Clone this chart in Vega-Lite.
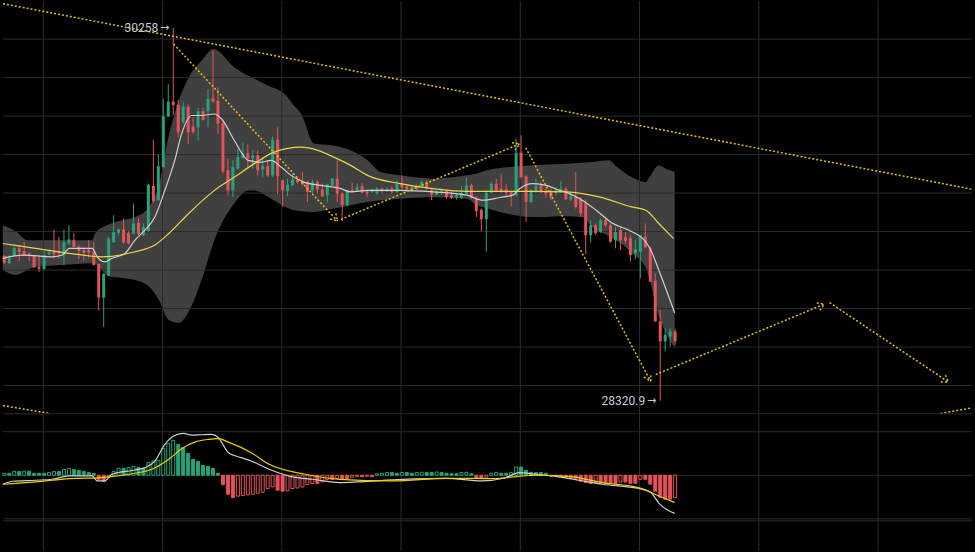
{
  "$schema": "https://vega.github.io/schema/vega-lite/v6.json",
  "width": 975,
  "height": 552,
  "autosize": {"type": "fit", "contains": "padding"},
  "padding": 0,
  "background": "#000000",
  "config": {
    "view": {"stroke": null},
    "axis": {"labels": false, "ticks": false, "domain": false, "grid": false},
    "scale": {"continuousPadding": 0}
  },
  "datasets": {
    "candles": [
      {"i":0,"o":29073,"h":29078,"l":29031,"c":29037,"m":4.6},
      {"i":1,"o":29035,"h":29077,"l":29031,"c":29061,"m":4.6},
      {"i":2,"o":29078,"h":29121,"l":29074,"c":29116,"m":8.5},
      {"i":3,"o":29113,"h":29130,"l":29047,"c":29094,"m":8.5},
      {"i":4,"o":29099,"h":29147,"l":29073,"c":29078,"m":9.2},
      {"i":5,"o":29085,"h":29095,"l":29048,"c":29074,"m":9.2},
      {"i":6,"o":29074,"h":29078,"l":29012,"c":29014,"m":4.6},
      {"i":7,"o":29017,"h":29074,"l":28991,"c":29007,"m":4.6},
      {"i":8,"o":29005,"h":29099,"l":29000,"c":29078,"m":4.6},
      {"i":9,"o":29082,"h":29107,"l":29078,"c":29092,"m":6.2},
      {"i":10,"o":29095,"h":29211,"l":29061,"c":29082,"m":8.5},
      {"i":11,"o":29095,"h":29173,"l":29061,"c":29087,"m":8.5},
      {"i":12,"o":29078,"h":29211,"l":29026,"c":29144,"m":13.0},
      {"i":13,"o":29138,"h":29233,"l":29130,"c":29159,"m":16.0},
      {"i":14,"o":29155,"h":29193,"l":29118,"c":29121,"m":13.0},
      {"i":15,"o":29121,"h":29130,"l":29056,"c":29099,"m":11.4},
      {"i":16,"o":29104,"h":29118,"l":29048,"c":29090,"m":9.2},
      {"i":17,"o":29104,"h":29155,"l":29061,"c":29090,"m":6.2},
      {"i":18,"o":29095,"h":29147,"l":29026,"c":29026,"m":4.6},
      {"i":19,"o":29031,"h":29035,"l":28790,"c":28857,"m":-9.2},
      {"i":20,"o":28857,"h":28983,"l":28704,"c":28980,"m":-14.4},
      {"i":21,"o":28971,"h":29173,"l":28969,"c":29164,"m":-3.9},
      {"i":22,"o":29144,"h":29285,"l":29142,"c":29197,"m":8.5},
      {"i":23,"o":29193,"h":29216,"l":29181,"c":29212,"m":16.0},
      {"i":24,"o":29211,"h":29268,"l":29138,"c":29144,"m":16.0},
      {"i":25,"o":29193,"h":29202,"l":29135,"c":29138,"m":17.6},
      {"i":26,"o":29190,"h":29346,"l":29187,"c":29242,"m":20.6},
      {"i":27,"o":29245,"h":29268,"l":29181,"c":29187,"m":18.3},
      {"i":28,"o":29181,"h":29242,"l":29178,"c":29223,"m":16.0},
      {"i":29,"o":29204,"h":29449,"l":29199,"c":29444,"m":29.1},
      {"i":30,"o":29437,"h":29677,"l":29351,"c":29357,"m":32.7},
      {"i":31,"o":29363,"h":29599,"l":29359,"c":29540,"m":34.3},
      {"i":32,"o":29535,"h":29889,"l":29532,"c":29799,"m":61.8},
      {"i":33,"o":29799,"h":29967,"l":29794,"c":29875,"m":73.2},
      {"i":34,"o":29875,"h":30258,"l":29806,"c":29858,"m":80.1},
      {"i":35,"o":29858,"h":29885,"l":29690,"c":29716,"m":70.9},
      {"i":36,"o":29768,"h":29871,"l":29760,"c":29849,"m":64.1},
      {"i":37,"o":29849,"h":29860,"l":29656,"c":29716,"m":50.3},
      {"i":38,"o":29746,"h":29794,"l":29708,"c":29716,"m":36.6},
      {"i":39,"o":29742,"h":29843,"l":29673,"c":29825,"m":32.0},
      {"i":40,"o":29825,"h":29843,"l":29777,"c":29780,"m":22.9},
      {"i":41,"o":29825,"h":29941,"l":29742,"c":29889,"m":20.6},
      {"i":42,"o":29892,"h":30139,"l":29871,"c":29875,"m":16.0},
      {"i":43,"o":29880,"h":29949,"l":29708,"c":29760,"m":4.6},
      {"i":44,"o":29763,"h":29777,"l":29501,"c":29513,"m":-21.7},
      {"i":45,"o":29518,"h":29579,"l":29389,"c":29414,"m":-43.5},
      {"i":46,"o":29414,"h":29570,"l":29380,"c":29535,"m":-51.5},
      {"i":47,"o":29527,"h":29630,"l":29522,"c":29587,"m":-48.0},
      {"i":48,"o":29582,"h":29664,"l":29579,"c":29607,"m":-46.4},
      {"i":49,"o":29607,"h":29653,"l":29535,"c":29579,"m":-45.1},
      {"i":50,"o":29579,"h":29625,"l":29527,"c":29596,"m":-43.5},
      {"i":51,"o":29596,"h":29622,"l":29492,"c":29518,"m":-41.2},
      {"i":52,"o":29523,"h":29587,"l":29480,"c":29540,"m":-38.9},
      {"i":53,"o":29540,"h":29570,"l":29483,"c":29492,"m":-30.4},
      {"i":54,"o":29492,"h":29694,"l":29483,"c":29677,"m":-26.8},
      {"i":55,"o":29678,"h":29742,"l":29394,"c":29488,"m":-34.3},
      {"i":56,"o":29466,"h":29470,"l":29328,"c":29414,"m":-36.6},
      {"i":57,"o":29411,"h":29475,"l":29383,"c":29444,"m":-35.9},
      {"i":58,"o":29440,"h":29501,"l":29437,"c":29470,"m":-30.4},
      {"i":59,"o":29470,"h":29483,"l":29449,"c":29456,"m":-29.1},
      {"i":60,"o":29461,"h":29509,"l":29440,"c":29445,"m":-26.8},
      {"i":61,"o":29456,"h":29466,"l":29354,"c":29406,"m":-21.3},
      {"i":62,"o":29414,"h":29470,"l":29397,"c":29457,"m":-19.0},
      {"i":63,"o":29457,"h":29466,"l":29397,"c":29418,"m":-19.0},
      {"i":64,"o":29418,"h":29449,"l":29380,"c":29383,"m":-15.3},
      {"i":65,"o":29389,"h":29449,"l":29354,"c":29445,"m":-9.8},
      {"i":66,"o":29440,"h":29478,"l":29437,"c":29475,"m":-9.8},
      {"i":67,"o":29475,"h":29570,"l":29354,"c":29397,"m":-7.6},
      {"i":68,"o":29397,"h":29406,"l":29255,"c":29337,"m":-7.6},
      {"i":69,"o":29337,"h":29418,"l":29333,"c":29414,"m":-7.6},
      {"i":70,"o":29418,"h":29452,"l":29400,"c":29406,"m":-4.6},
      {"i":71,"o":29414,"h":29449,"l":29406,"c":29431,"m":-2.3},
      {"i":72,"o":29435,"h":29452,"l":29397,"c":29402,"m":-3.4},
      {"i":73,"o":29409,"h":29414,"l":29380,"c":29397,"m":-2.3},
      {"i":74,"o":29404,"h":29423,"l":29400,"c":29418,"m":-3.4},
      {"i":75,"o":29397,"h":29432,"l":29392,"c":29423,"m":3.4},
      {"i":76,"o":29423,"h":29428,"l":29397,"c":29409,"m":4.6},
      {"i":77,"o":29409,"h":29432,"l":29406,"c":29420,"m":6.2},
      {"i":78,"o":29423,"h":29435,"l":29397,"c":29406,"m":6.2},
      {"i":79,"o":29406,"h":29466,"l":29400,"c":29449,"m":4.6},
      {"i":80,"o":29449,"h":29492,"l":29418,"c":29431,"m":6.2},
      {"i":81,"o":29435,"h":29440,"l":29414,"c":29418,"m":6.2},
      {"i":82,"o":29418,"h":29440,"l":29406,"c":29431,"m":4.6},
      {"i":83,"o":29435,"h":29444,"l":29414,"c":29423,"m":6.2},
      {"i":84,"o":29435,"h":29466,"l":29432,"c":29457,"m":6.9},
      {"i":85,"o":29457,"h":29466,"l":29418,"c":29423,"m":6.2},
      {"i":86,"o":29418,"h":29423,"l":29363,"c":29392,"m":6.2},
      {"i":87,"o":29392,"h":29414,"l":29389,"c":29411,"m":7.6},
      {"i":88,"o":29400,"h":29423,"l":29394,"c":29414,"m":6.2},
      {"i":89,"o":29414,"h":29418,"l":29371,"c":29380,"m":4.6},
      {"i":90,"o":29389,"h":29406,"l":29369,"c":29375,"m":3.4},
      {"i":91,"o":29377,"h":29397,"l":29366,"c":29389,"m":3.4},
      {"i":92,"o":29375,"h":29435,"l":29371,"c":29400,"m":6.2},
      {"i":93,"o":29397,"h":29480,"l":29394,"c":29440,"m":6.9},
      {"i":94,"o":29440,"h":29449,"l":29371,"c":29375,"m":3.4},
      {"i":95,"o":29375,"h":29383,"l":29276,"c":29306,"m":-5.7},
      {"i":96,"o":29314,"h":29320,"l":29202,"c":29264,"m":-6.9},
      {"i":97,"o":29264,"h":29414,"l":29095,"c":29402,"m":-4.6},
      {"i":98,"o":29402,"h":29461,"l":29397,"c":29449,"m":4.6},
      {"i":99,"o":29449,"h":29475,"l":29406,"c":29414,"m":6.2},
      {"i":100,"o":29423,"h":29501,"l":29400,"c":29409,"m":4.6},
      {"i":101,"o":29420,"h":29449,"l":29380,"c":29400,"m":4.6},
      {"i":102,"o":29406,"h":29411,"l":29332,"c":29389,"m":6.2},
      {"i":103,"o":29389,"h":29682,"l":29383,"c":29610,"m":19.0},
      {"i":104,"o":29610,"h":29699,"l":29475,"c":29483,"m":19.0},
      {"i":105,"o":29487,"h":29492,"l":29250,"c":29354,"m":11.4},
      {"i":106,"o":29354,"h":29423,"l":29349,"c":29414,"m":6.9},
      {"i":107,"o":29406,"h":29475,"l":29400,"c":29437,"m":6.2},
      {"i":108,"o":29440,"h":29457,"l":29397,"c":29406,"m":6.2},
      {"i":109,"o":29414,"h":29432,"l":29377,"c":29397,"m":4.6},
      {"i":110,"o":29406,"h":29423,"l":29363,"c":29377,"m":-2.3},
      {"i":111,"o":29400,"h":29432,"l":29389,"c":29414,"m":-3.0},
      {"i":112,"o":29406,"h":29461,"l":29400,"c":29423,"m":-3.0},
      {"i":113,"o":29423,"h":29432,"l":29363,"c":29368,"m":-4.6},
      {"i":114,"o":29368,"h":29406,"l":29359,"c":29383,"m":-5.7},
      {"i":115,"o":29380,"h":29509,"l":29320,"c":29328,"m":-6.9},
      {"i":116,"o":29366,"h":29380,"l":29276,"c":29294,"m":-13.7},
      {"i":117,"o":29346,"h":29366,"l":29082,"c":29181,"m":-16.7},
      {"i":118,"o":29181,"h":29259,"l":29142,"c":29233,"m":-19.0},
      {"i":119,"o":29233,"h":29242,"l":29181,"c":29193,"m":-16.7},
      {"i":120,"o":29198,"h":29268,"l":29193,"c":29259,"m":-18.3},
      {"i":121,"o":29259,"h":29276,"l":29224,"c":29233,"m":-18.3},
      {"i":122,"o":29233,"h":29242,"l":29142,"c":29147,"m":-18.3},
      {"i":123,"o":29155,"h":29224,"l":29113,"c":29198,"m":-18.3},
      {"i":124,"o":29207,"h":29224,"l":29104,"c":29155,"m":-15.3},
      {"i":125,"o":29170,"h":29198,"l":29138,"c":29152,"m":-15.3},
      {"i":126,"o":29164,"h":29181,"l":29043,"c":29078,"m":-18.3},
      {"i":127,"o":29087,"h":29155,"l":29056,"c":29107,"m":-18.3},
      {"i":128,"o":29095,"h":29181,"l":28957,"c":29181,"m":-9.2},
      {"i":129,"o":29173,"h":29242,"l":29113,"c":29118,"m":-9.2},
      {"i":130,"o":29113,"h":29121,"l":28940,"c":28940,"m":-20.6},
      {"i":131,"o":28945,"h":28983,"l":28733,"c":28733,"m":-36.6},
      {"i":132,"o":28733,"h":28793,"l":28320.9,"c":28629,"m":-50.3},
      {"i":133,"o":28629,"h":28698,"l":28577,"c":28664,"m":-54.9},
      {"i":134,"o":28655,"h":28698,"l":28603,"c":28681,"m":-54.9},
      {"i":135,"o":28681,"h":28693,"l":28612,"c":28630,"m":-51.5}
    ],
    "bb": [
      {"i":-0.3,"up":29233,"lo":29000},
      {"i":2.3,"up":29202,"lo":28974},
      {"i":4.7,"up":29155,"lo":29000},
      {"i":6.3,"up":29155,"lo":29017},
      {"i":11.7,"up":29155,"lo":29026},
      {"i":17.7,"up":29155,"lo":29036},
      {"i":18.3,"up":29192,"lo":29031},
      {"i":21.1,"up":29238,"lo":28966},
      {"i":23.7,"up":29259,"lo":28959},
      {"i":26.3,"up":29276,"lo":28948},
      {"i":29.1,"up":29328,"lo":28914},
      {"i":31.1,"up":29440,"lo":28845},
      {"i":33.1,"up":29699,"lo":28741},
      {"i":35.1,"up":29880,"lo":28726},
      {"i":37.1,"up":29999,"lo":28784},
      {"i":39.7,"up":30087,"lo":28948},
      {"i":42.1,"up":30148,"lo":29145},
      {"i":46.3,"up":30053,"lo":29347},
      {"i":49.1,"up":30010,"lo":29414},
      {"i":50.3,"up":29994,"lo":29414},
      {"i":53.1,"up":29958,"lo":29380},
      {"i":56.3,"up":29917,"lo":29332},
      {"i":58.3,"up":29854,"lo":29311},
      {"i":59.7,"up":29813,"lo":29306},
      {"i":62.3,"up":29658,"lo":29302},
      {"i":66.3,"up":29647,"lo":29320},
      {"i":69.7,"up":29622,"lo":29337},
      {"i":73.1,"up":29570,"lo":29354},
      {"i":75.7,"up":29509,"lo":29363},
      {"i":79.7,"up":29492,"lo":29371},
      {"i":86.3,"up":29475,"lo":29378},
      {"i":93.1,"up":29492,"lo":29371},
      {"i":95.1,"up":29502,"lo":29337},
      {"i":97.1,"up":29518,"lo":29321},
      {"i":101.7,"up":29535,"lo":29290},
      {"i":106.3,"up":29544,"lo":29276},
      {"i":113.1,"up":29553,"lo":29280},
      {"i":116.3,"up":29557,"lo":29276},
      {"i":118.3,"up":29561,"lo":29224},
      {"i":121.7,"up":29570,"lo":29176},
      {"i":123.1,"up":29539,"lo":29155},
      {"i":125.1,"up":29501,"lo":29119},
      {"i":126.3,"up":29482,"lo":29088},
      {"i":129.1,"up":29457,"lo":29011},
      {"i":129.7,"up":29477,"lo":28965},
      {"i":131.7,"up":29543,"lo":28760},
      {"i":133.1,"up":29527,"lo":28679},
      {"i":134.9,"up":29509,"lo":28595}
    ],
    "maw": [
      {"i":-0.3,"p":29061},{"i":3.7,"p":29078},{"i":9.7,"p":29069},{"i":11.7,"p":29078},
      {"i":13.1,"p":29113},{"i":17.7,"p":29113},{"i":18.7,"p":29069},{"i":20.3,"p":29043},
      {"i":21.7,"p":29061},{"i":24.3,"p":29087},{"i":26.3,"p":29156},{"i":28.3,"p":29207},
      {"i":30.3,"p":29276},{"i":32.3,"p":29414},{"i":34.3,"p":29570},{"i":35.7,"p":29709},
      {"i":37.7,"p":29803},{"i":39.7,"p":29803},{"i":42.3,"p":29811},{"i":43.7,"p":29786},
      {"i":46.3,"p":29673},{"i":49.1,"p":29570},{"i":51.7,"p":29561},{"i":53.7,"p":29570},
      {"i":55.7,"p":29535},{"i":57.7,"p":29492},{"i":60.3,"p":29457},{"i":63.7,"p":29440},
      {"i":67.7,"p":29423},{"i":69.7,"p":29406},{"i":73.1,"p":29414},{"i":79.7,"p":29414},
      {"i":86.3,"p":29406},{"i":93.1,"p":29389},{"i":96.3,"p":29363},{"i":99.7,"p":29377},
      {"i":102.3,"p":29389},{"i":103.7,"p":29423},{"i":106.3,"p":29449},{"i":109.1,"p":29440},
      {"i":111.7,"p":29414},{"i":113.1,"p":29404},{"i":116.3,"p":29363},{"i":119.1,"p":29311},
      {"i":122.3,"p":29244},{"i":125.7,"p":29207},{"i":129.1,"p":29145},{"i":130.3,"p":29093},
      {"i":131.7,"p":29000},{"i":134.9,"p":28778}
    ],
    "may": [
      {"i":-0.3,"p":29138},{"i":6.3,"p":29113},{"i":13.1,"p":29087},{"i":19.7,"p":29069},
      {"i":26.3,"p":29095},{"i":30.3,"p":29130},{"i":33.1,"p":29190},{"i":37.1,"p":29294},
      {"i":42.3,"p":29414},{"i":46.3,"p":29483},{"i":50.3,"p":29553},{"i":54.3,"p":29613},
      {"i":59.7,"p":29639},{"i":63.1,"p":29622},{"i":66.3,"p":29587},{"i":69.7,"p":29544},
      {"i":73.1,"p":29492},{"i":79.7,"p":29449},{"i":86.3,"p":29423},{"i":93.1,"p":29409},
      {"i":99.7,"p":29409},{"i":106.3,"p":29409},{"i":113.1,"p":29406},{"i":119.7,"p":29380},
      {"i":126.3,"p":29328},{"i":129.1,"p":29311},{"i":131.7,"p":29242},{"i":134.7,"p":29164}
    ],
    "draw": [
      {"seg":"t1","i":-0.26,"p":30384},{"seg":"t1","i":194.74,"p":29420},
      {"seg":"d1","i":34.08,"p":30174},{"seg":"d1","i":67.08,"p":29254},
      {"seg":"a1a","i":66.72,"p":29294},{"seg":"a1a","i":67.08,"p":29254},
      {"seg":"a1b","i":65.56,"p":29266},{"seg":"a1b","i":67.08,"p":29254},
      {"seg":"d2","i":67.74,"p":29263},{"seg":"d2","i":103.74,"p":29656},
      {"seg":"a2a","i":102.16,"p":29661},{"seg":"a2a","i":103.74,"p":29656},
      {"seg":"a2b","i":102.78,"p":29623},{"seg":"a2b","i":103.74,"p":29656},
      {"seg":"d3","i":104.94,"p":29635},{"seg":"d3","i":130.08,"p":28422},
      {"seg":"a3a","i":130.12,"p":28463},{"seg":"a3a","i":130.08,"p":28422},
      {"seg":"a3b","i":128.72,"p":28444},{"seg":"a3b","i":130.08,"p":28422},
      {"seg":"d4","i":131.08,"p":28457},{"seg":"d4","i":165.08,"p":28824},
      {"seg":"a4a","i":163.5,"p":28829},{"seg":"a4a","i":165.08,"p":28824},
      {"seg":"a4b","i":164.12,"p":28791},{"seg":"a4b","i":165.08,"p":28824},
      {"seg":"d5","i":166.08,"p":28831},{"seg":"d5","i":190.08,"p":28417},
      {"seg":"a5a","i":189.38,"p":28454},{"seg":"a5a","i":190.08,"p":28417},
      {"seg":"a5b","i":188.48,"p":28419},{"seg":"a5b","i":190.08,"p":28417},
      {"seg":"d6","i":188.4,"p":28255},{"seg":"d6","i":194.74,"p":28284},
      {"seg":"d7","i":-0.26,"p":28296},{"seg":"d7","i":9.08,"p":28255}
    ],
    "labels": [
      {"i":34,"p":30258,"t":"30258"},
      {"i":132,"p":28320.9,"t":"28320.9"}
    ],
    "hgrid": [
      {"p":30200},{"p":30000},{"p":29800},{"p":29600},{"p":29400},
      {"p":29200},{"p":29000},{"p":28800},{"p":28600},{"p":28400}
    ],
    "vgrid": [
      {"i":7.84},{"i":31.84},{"i":55.84},{"i":79.84},{"i":103.84},{"i":127.84},{"i":151.84},{"i":175.84}
    ],
    "mgrid": [
      {"v":141.2},{"v":100},{"v":0},{"v":-100},{"v":-104.6}
    ],
    "dif": [
      {"i":-0.3,"v":-20.6},{"i":1.7,"v":-13.7},{"i":6.3,"v":-11.4},{"i":9.7,"v":-9.2},
      {"i":13.1,"v":-1.6},{"i":17.7,"v":-1.6},{"i":18.7,"v":-13.0},{"i":20.1,"v":-13.0},
      {"i":21.7,"v":2.3},{"i":26.3,"v":12.1},{"i":28.3,"v":17.6},{"i":30.3,"v":32.7},
      {"i":32.3,"v":70.9},{"i":34.3,"v":91.5},{"i":36.1,"v":96.1},{"i":37.7,"v":92.2},
      {"i":39.7,"v":93.1},{"i":41.7,"v":93.8},{"i":43.1,"v":86.3},{"i":45.1,"v":51.9},
      {"i":47.7,"v":40.5},{"i":49.7,"v":32.7},{"i":53.3,"v":13.7},{"i":57.7,"v":-3.0},
      {"i":62.1,"v":-9.2},{"i":67.5,"v":-16.7},{"i":71.1,"v":-15.3},{"i":80.1,"v":-9.2},
      {"i":88.9,"v":-6.9},{"i":96.1,"v":-13.0},{"i":100.5,"v":-6.9},{"i":103.7,"v":6.2},
      {"i":106.9,"v":2.3},{"i":111.3,"v":-3.0},{"i":115.7,"v":-11.4},{"i":120.3,"v":-20.6},
      {"i":128.3,"v":-32.0},{"i":130.1,"v":-39.6},{"i":131.9,"v":-66.4},{"i":134.9,"v":-87.6}
    ],
    "dea": [
      {"i":-0.3,"v":-20.6},{"i":6.3,"v":-15.3},{"i":13.1,"v":-7.6},{"i":19.7,"v":-5.3},
      {"i":26.3,"v":4.6},{"i":29.7,"v":13.7},{"i":33.1,"v":36.6},{"i":35.7,"v":61.1},
      {"i":38.3,"v":76.2},{"i":41.1,"v":82.4},{"i":43.1,"v":84.0},{"i":45.1,"v":76.2},
      {"i":49.7,"v":51.9},{"i":53.3,"v":25.2},{"i":60.5,"v":2.3},{"i":67.5,"v":-9.2},
      {"i":78.3,"v":-13.0},{"i":88.9,"v":-6.9},{"i":98.0,"v":-7.6},{"i":106.9,"v":0},
      {"i":113.9,"v":-3.0},{"i":120.3,"v":-16.7},{"i":128.3,"v":-30.4},{"i":130.9,"v":-43.5},
      {"i":134.9,"v":-62.5}
    ]
  },
  "layer": [
    {
      "layer": [
        {
          "data": {"name": "bb"},
          "mark": {"type": "area", "interpolate": "monotone", "color": "#404040"},
          "encoding": {
            "x": {"field": "i", "type": "quantitative", "scale": {"domain": [-0.26, 194.74], "nice": false, "zero": false, "padding": 0}, "axis": null},
            "y": {"field": "up", "type": "quantitative", "scale": {"domain": [27540.3, 30398], "nice": false, "zero": false, "padding": 0}, "axis": null},
            "y2": {"field": "lo"}
          }
        },
        {
          "data": {"name": "hgrid"},
          "mark": {"type": "rule", "color": "#2b2b2b", "strokeWidth": 1},
          "encoding": {
            "y": {"field": "p", "type": "quantitative", "scale": {"domain": [27540.3, 30398], "nice": false, "zero": false, "padding": 0}, "axis": null}
          }
        },
        {
          "data": {"name": "vgrid"},
          "mark": {"type": "rule", "color": "#2b2b2b", "strokeWidth": 1},
          "encoding": {
            "x": {"field": "i", "type": "quantitative", "scale": {"domain": [-0.26, 194.74], "nice": false, "zero": false, "padding": 0}, "axis": null}
          }
        },
        {
          "data": {"name": "candles"},
          "mark": {"type": "rule", "strokeWidth": 1},
          "encoding": {
            "x": {"field": "i", "type": "quantitative", "scale": {"domain": [-0.26, 194.74], "nice": false, "zero": false, "padding": 0}, "axis": null},
            "y": {"field": "l", "type": "quantitative", "scale": {"domain": [27540.3, 30398], "nice": false, "zero": false, "padding": 0}, "axis": null},
            "y2": {"field": "h"},
            "color": {"condition": {"test": "datum.c >= datum.o", "value": "#26a37a"}, "value": "#e5535a"}
          }
        },
        {
          "data": {"name": "candles"},
          "mark": {"type": "bar", "width": 3},
          "encoding": {
            "x": {"field": "i", "type": "quantitative", "scale": {"domain": [-0.26, 194.74], "nice": false, "zero": false, "padding": 0}, "axis": null},
            "y": {"field": "o", "type": "quantitative", "scale": {"domain": [27540.3, 30398], "nice": false, "zero": false, "padding": 0}, "axis": null},
            "y2": {"field": "c"},
            "color": {"condition": {"test": "datum.c >= datum.o", "value": "#26a37a"}, "value": "#e5535a"}
          }
        },
        {
          "data": {"name": "maw"},
          "mark": {"type": "line", "interpolate": "monotone", "color": "#cfcfcf", "strokeWidth": 1.2},
          "encoding": {
            "x": {"field": "i", "type": "quantitative", "scale": {"domain": [-0.26, 194.74], "nice": false, "zero": false, "padding": 0}, "axis": null},
            "y": {"field": "p", "type": "quantitative", "scale": {"domain": [27540.3, 30398], "nice": false, "zero": false, "padding": 0}, "axis": null}
          }
        },
        {
          "data": {"name": "may"},
          "mark": {"type": "line", "interpolate": "monotone", "color": "#e8d64a", "strokeWidth": 1.2},
          "encoding": {
            "x": {"field": "i", "type": "quantitative", "scale": {"domain": [-0.26, 194.74], "nice": false, "zero": false, "padding": 0}, "axis": null},
            "y": {"field": "p", "type": "quantitative", "scale": {"domain": [27540.3, 30398], "nice": false, "zero": false, "padding": 0}, "axis": null}
          }
        },
        {
          "data": {"name": "draw"},
          "mark": {"type": "line", "color": "#e3bf14", "strokeWidth": 1.5, "strokeDash": [2, 2]},
          "encoding": {
            "x": {"field": "i", "type": "quantitative", "scale": {"domain": [-0.26, 194.74], "nice": false, "zero": false, "padding": 0}, "axis": null},
            "y": {"field": "p", "type": "quantitative", "scale": {"domain": [27540.3, 30398], "nice": false, "zero": false, "padding": 0}, "axis": null},
            "detail": {"field": "seg", "type": "nominal"}
          }
        },
        {
          "mark": {"type": "rule", "color": "#e0474c", "strokeWidth": 1, "strokeDash": [4, 4]},
          "encoding": {
            "y": {"datum": 28630, "type": "quantitative", "scale": {"domain": [27540.3, 30398], "nice": false, "zero": false, "padding": 0}, "axis": null}
          }
        },
        {
          "data": {"name": "labels"},
          "mark": {"type": "text", "align": "right", "baseline": "middle", "dx": -15, "font": "Roboto", "fontSize": 12, "color": "#c3cad6"},
          "encoding": {
            "x": {"field": "i", "type": "quantitative", "scale": {"domain": [-0.26, 194.74], "nice": false, "zero": false, "padding": 0}, "axis": null},
            "y": {"field": "p", "type": "quantitative", "scale": {"domain": [27540.3, 30398], "nice": false, "zero": false, "padding": 0}, "axis": null},
            "text": {"field": "t"}
          }
        },
        {
          "data": {"name": "labels"},
          "mark": {"type": "text", "align": "right", "baseline": "middle", "dx": -4, "font": "DejaVu Sans", "fontSize": 11, "color": "#c3cad6", "text": "→"},
          "encoding": {
            "x": {"field": "i", "type": "quantitative", "scale": {"domain": [-0.26, 194.74], "nice": false, "zero": false, "padding": 0}, "axis": null},
            "y": {"field": "p", "type": "quantitative", "scale": {"domain": [27540.3, 30398], "nice": false, "zero": false, "padding": 0}, "axis": null}
          }
        }
      ]
    },
    {
      "layer": [
        {
          "data": {"name": "mgrid"},
          "mark": {"type": "rule", "color": "#2b2b2b", "strokeWidth": 1},
          "encoding": {
            "y": {"field": "v", "type": "quantitative", "scale": {"domain": [-173.9, 1089.1], "nice": false, "zero": false, "padding": 0}, "axis": null}
          }
        },
        {
          "data": {"name": "candles"},
          "transform": [{"window": [{"op": "lag", "field": "m", "as": "pm"}], "sort": [{"field": "i"}]}],
          "mark": {"type": "bar", "width": 3, "strokeWidth": 1},
          "encoding": {
            "x": {"field": "i", "type": "quantitative", "scale": {"domain": [-0.26, 194.74], "nice": false, "zero": false, "padding": 0}, "axis": null},
            "y": {"field": "m", "type": "quantitative", "scale": {"domain": [-173.9, 1089.1], "nice": false, "zero": false, "padding": 0}, "axis": null},
            "y2": {"datum": 0},
            "fill": {"condition": [{"test": "datum.m > datum.pm", "value": "#000000"}, {"test": "datum.m >= 0", "value": "#26a37a"}], "value": "#e5535a"},
            "stroke": {"condition": {"test": "datum.m >= 0", "value": "#26a37a"}, "value": "#e5535a"}
          }
        },
        {
          "data": {"name": "dif"},
          "mark": {"type": "line", "interpolate": "monotone", "color": "#cfcfcf", "strokeWidth": 1.2},
          "encoding": {
            "x": {"field": "i", "type": "quantitative", "scale": {"domain": [-0.26, 194.74], "nice": false, "zero": false, "padding": 0}, "axis": null},
            "y": {"field": "v", "type": "quantitative", "scale": {"domain": [-173.9, 1089.1], "nice": false, "zero": false, "padding": 0}, "axis": null}
          }
        },
        {
          "data": {"name": "dea"},
          "mark": {"type": "line", "interpolate": "monotone", "color": "#f0d000", "strokeWidth": 1.2},
          "encoding": {
            "x": {"field": "i", "type": "quantitative", "scale": {"domain": [-0.26, 194.74], "nice": false, "zero": false, "padding": 0}, "axis": null},
            "y": {"field": "v", "type": "quantitative", "scale": {"domain": [-173.9, 1089.1], "nice": false, "zero": false, "padding": 0}, "axis": null}
          }
        }
      ]
    }
  ],
  "resolve": {"scale": {"y": "independent"}}
}
